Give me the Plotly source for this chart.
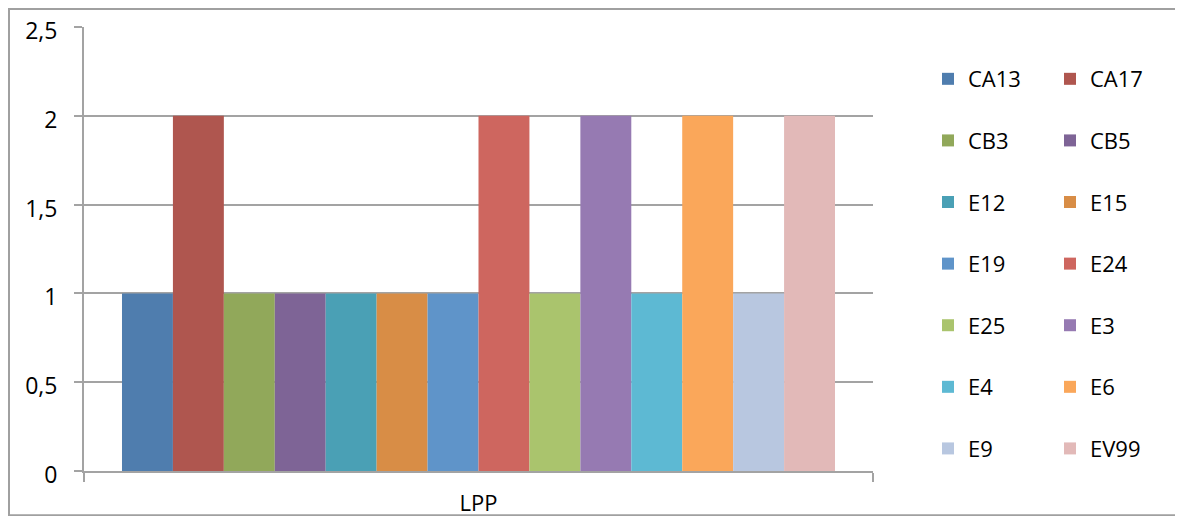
import plotly.graph_objects as go

categories = ["LPP"]
series_names = ["CA13", "CA17", "CB3", "CB5", "E12", "E15", "E19",
                "E24", "E25", "E3", "E4", "E6", "E9", "EV99"]
series_values = [1, 2, 1, 1, 1, 1, 1, 2, 1, 2, 1, 2, 1, 2]
series_colors = ["#4F7DAE", "#AF564F", "#91A85A", "#7E6496", "#4AA0B5",
                 "#D88D46", "#5F94C9", "#CE665F", "#AAC46D", "#967AB2",
                 "#5DB9D3", "#FAA75A", "#B8C7E0", "#E2B9B8"]
y_ticks = [0, 0.5, 1, 1.5, 2, 2.5]

FONT = "Open Sans"
GRID = "#A3A3A3"

fig = go.Figure()
for i, (name, val, col) in enumerate(zip(series_names, series_values, series_colors)):
    fig.add_trace(go.Bar(
        x=categories, y=[val], name=name,
        marker=dict(color=col, line=dict(width=0)),
        legendgroup=name,
        legend="legend" if i % 2 == 0 else "legend2",
    ))

OFF = 8  # page body margin
W, H = 1183 - OFF, 516 - OFF
L, T = 84 - OFF, 27 - OFF
R = W - (873 - OFF)
B = H - (470.7 - OFF)
pw, ph = W - L - R, H - T - B

def px_x(x):
    # x in page pixels
    return (x - OFF - L) / pw

def px_y(y):
    # y in page pixels
    return (H - B - (y - OFF)) / ph

legend_common = dict(
    font=dict(family=FONT, size=22, color="#000000"),
    bgcolor="rgba(0,0,0,0)",
    traceorder="grouped",
    tracegroupgap=30,
    yanchor="top",
    xanchor="left",
    orientation="v",
)

fig.update_layout(
    width=W, height=H,
    margin=dict(l=L, r=R, t=T, b=B, autoexpand=False),
    paper_bgcolor="white",
    plot_bgcolor="white",
    separators=",.",
    barmode="group",
    bargap=0.0963,
    bargroupgap=0,
    font=dict(family=FONT, size=22, color="#000000"),
    legend=dict(x=px_x(928), y=px_y(58), **legend_common),
    legend2=dict(x=px_x(1050), y=px_y(58), **legend_common),
    xaxis=dict(
        automargin=False,
        showline=True, linecolor=GRID, linewidth=2,
        ticks="outside", tickson="boundaries", ticklen=9, tickcolor=GRID, tickwidth=2,
        showgrid=False,
        tickfont=dict(family=FONT, size=22, color="#000000"),
        ticklabelstandoff=12,
    ),
    yaxis=dict(
        automargin=False,
        range=[0, 2.5], tickvals=y_ticks,
        showline=True, linecolor=GRID, linewidth=2,
        ticks="outside", ticklen=8, tickcolor=GRID, tickwidth=2,
        showgrid=True, gridcolor=GRID, gridwidth=1.5,
        zeroline=False,
        tickfont=dict(family=FONT, size=23, color="#000000"),
        ticklabelstandoff=12,
        ticklabelshift=4,
    ),
    shapes=[dict(
        type="rect", xref="paper", yref="paper",
        x0=px_x(9), x1=px_x(1179), y0=px_y(515), y1=px_y(9),
        line=dict(color="#A0A0A0", width=2), layer="below",
    )],
)

fig.write_html("out.html")
